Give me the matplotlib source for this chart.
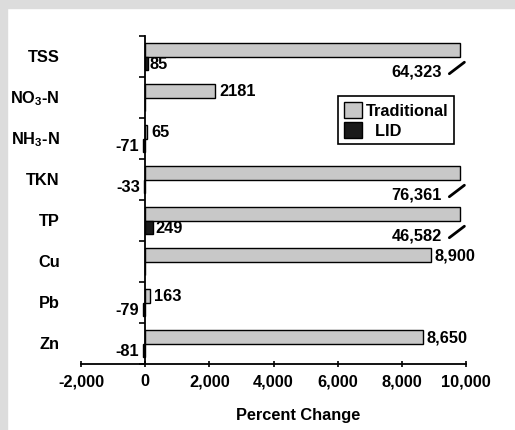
import numpy as np
import matplotlib.pyplot as plt
from matplotlib.patches import Rectangle
from matplotlib.ticker import FuncFormatter

plt.rcParams['font.family'] = ['Liberation Sans', 'DejaVu Sans']
plt.rcParams['font.weight'] = 'bold'
plt.rcParams['mathtext.fontset'] = 'custom'
plt.rcParams['mathtext.rm'] = 'Liberation Sans:bold'
plt.rcParams['mathtext.bf'] = 'Liberation Sans:bold'
plt.rcParams['axes.unicode_minus'] = False

# ── data ──
categories = ['TSS', r'NO$_3$-N', r'NH$_3$-N', 'TKN', 'TP', 'Cu', 'Pb', 'Zn']
traditional = [64323, 2181, 65, 76361, 46582, 8900, 163, 8650]
lid = [85, np.nan, -71, -33, 249, np.nan, -79, -81]
xticks = [-2000, 0, 2000, 4000, 6000, 8000, 10000]

CAP = 9800          # bars longer than this are drawn broken
FS = 11.8

trad = np.array(traditional, dtype=float)
lidv = np.array(lid, dtype=float)
y = np.arange(len(categories))
h = 0.33

fig = plt.figure(figsize=(5.15, 4.31), dpi=100)
fig.patch.set_facecolor('white')
# grey frame strips at top and left
fig.patches.append(Rectangle((0, 1 - 9 / 431), 1, 9 / 431, transform=fig.transFigure,
                             color='#dcdcdc', zorder=0))
fig.patches.append(Rectangle((0, 0), 7 / 515, 1, transform=fig.transFigure,
                             color='#dcdcdc', zorder=0))

ax = fig.add_axes([81 / 515, 1 - 365 / 431, 385 / 515, 328 / 431])
ax.set_facecolor('none')

ax.barh(y - h / 2, np.minimum(trad, CAP), height=h, color='#c8c8c8',
        edgecolor='black', linewidth=1.0, label='Traditional')
ax.barh(y + h / 2, np.nan_to_num(lidv), height=h, color='#1a1a1a',
        edgecolor='black', linewidth=1.0, label='  LID')

# value labels
for i, v in enumerate(trad):
    if v > CAP:
        ax.text(9250, i + 0.36, f'{int(v):,}', ha='right', va='center', fontsize=FS)
        ax.plot([9480, 9950], [i + 0.42, i + 0.14], color='black', lw=2,
                clip_on=False, solid_capstyle='round')
    else:
        s = f'{int(v):,}' if v >= 5000 else f'{int(v)}'
        ax.text(v + 120, i - h / 2, s, ha='left', va='center', fontsize=FS)
for i, v in enumerate(lidv):
    if np.isnan(v):
        continue
    if v >= 0:
        ax.text(v + 60, i + h / 2, f'{int(v)}', ha='left', va='center', fontsize=FS)
    else:
        ax.text(v - 120, i + h / 2, f'{int(v)}', ha='right', va='center', fontsize=FS)

# category labels
for i, c in enumerate(categories):
    ax.text(-0.055, i, c, transform=ax.get_yaxis_transform(), ha='right',
            va='center', fontsize=FS)

ax.set_xlim(-2000, 10000)
ax.set_ylim(len(categories) - 0.5, -0.5)
ax.set_xticks(xticks)
ax.xaxis.set_major_formatter(FuncFormatter(lambda v, p: f'{int(v):,}'))
ax.set_yticks(np.arange(-0.5, len(categories), 1.0))
ax.set_yticklabels([])

ax.spines['top'].set_visible(False)
ax.spines['right'].set_visible(False)
ax.spines['left'].set_position(('data', 0))
ax.spines['left'].set_linewidth(1.3)
ax.spines['bottom'].set_linewidth(1.3)
ax.tick_params(axis='x', direction='inout', length=5, width=1.2, pad=4, labelsize=FS)
ax.tick_params(axis='y', direction='out', length=4, width=1.2)

ax.set_xlabel('Percent Change', fontsize=FS, fontweight='bold')
ax.xaxis.set_label_coords(0.564, -0.13)

leg = ax.legend(loc='upper right', bbox_to_anchor=(0.969, 0.817), fontsize=FS,
                frameon=True, fancybox=False, edgecolor='black', framealpha=1,
                handlelength=1.15, handleheight=1.15, handletextpad=0.2,
                labelspacing=0.2, borderpad=0.35, borderaxespad=0)
leg.get_frame().set_linewidth(1.2)

fig.savefig('out.png', dpi=100)
